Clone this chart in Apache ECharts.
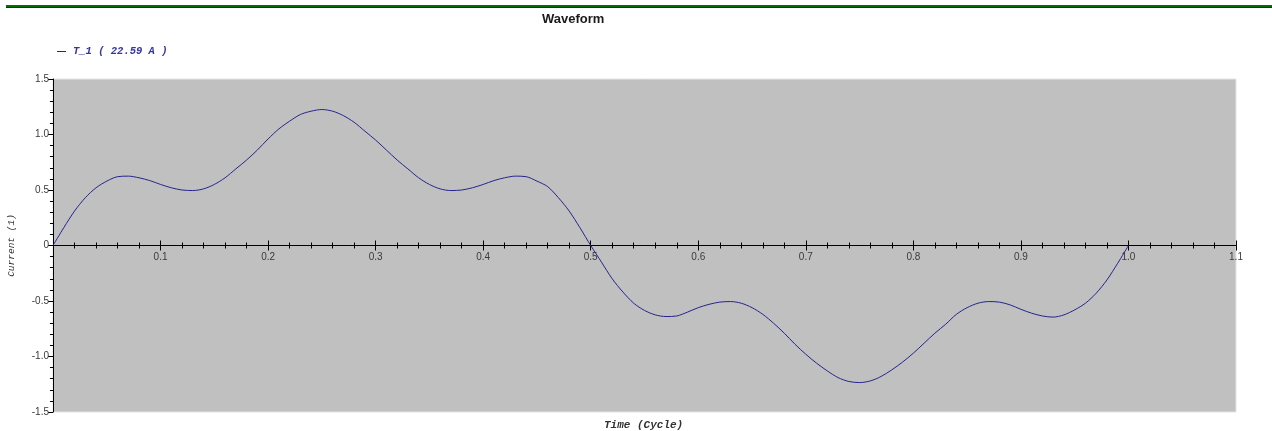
<!DOCTYPE html>
<html>
<head>
<meta charset="utf-8">
<title>Waveform</title>
<script src="https://cdn.jsdelivr.net/npm/echarts@6/dist/echarts.min.js"></script>
<style>
  html, body { margin: 0; padding: 0; background: #ffffff; }
  #chart { width: 1272px; height: 431px; }
</style>
</head>
<body>
<div id="chart"></div>
<script>
// Sample times (fraction of a cycle), one every 0.01 cycle
var time = [
  0.00, 0.01, 0.02, 0.03, 0.04, 0.05, 0.06, 0.07, 0.08, 0.09,
  0.10, 0.11, 0.12, 0.13, 0.14, 0.15, 0.16, 0.17, 0.18, 0.19,
  0.20, 0.21, 0.22, 0.23, 0.24, 0.25, 0.26, 0.27, 0.28, 0.29,
  0.30, 0.31, 0.32, 0.33, 0.34, 0.35, 0.36, 0.37, 0.38, 0.39,
  0.40, 0.41, 0.42, 0.43, 0.44, 0.45, 0.46, 0.47, 0.48, 0.49,
  0.50, 0.51, 0.52, 0.53, 0.54, 0.55, 0.56, 0.57, 0.58, 0.59,
  0.60, 0.61, 0.62, 0.63, 0.64, 0.65, 0.66, 0.67, 0.68, 0.69,
  0.70, 0.71, 0.72, 0.73, 0.74, 0.75, 0.76, 0.77, 0.78, 0.79,
  0.80, 0.81, 0.82, 0.83, 0.84, 0.85, 0.86, 0.87, 0.88, 0.89,
  0.90, 0.91, 0.92, 0.93, 0.94, 0.95, 0.96, 0.97, 0.98, 0.99, 1.00
];
// Per-unit current at each sample time
var current = [
  0.00, 0.16, 0.31, 0.43, 0.52, 0.58, 0.62, 0.625, 0.61, 0.585,
  0.55, 0.52, 0.50, 0.495, 0.51, 0.55, 0.61, 0.69, 0.77, 0.86,
  0.96, 1.05, 1.12, 1.18, 1.21, 1.225, 1.21, 1.17, 1.11, 1.03,
  0.95, 0.86, 0.77, 0.69, 0.61, 0.55, 0.51, 0.495, 0.50, 0.52,
  0.55, 0.585, 0.61, 0.625, 0.62, 0.58, 0.53, 0.43, 0.31, 0.16,
  0.00, -0.15, -0.30, -0.42, -0.52, -0.585, -0.625, -0.64, -0.635, -0.60,
  -0.56, -0.53, -0.51, -0.505, -0.52, -0.56, -0.62, -0.70, -0.79, -0.89,
  -0.98, -1.06, -1.13, -1.19, -1.225, -1.235, -1.22, -1.18, -1.12, -1.05,
  -0.97, -0.88, -0.79, -0.71, -0.62, -0.56, -0.52, -0.505, -0.51, -0.535,
  -0.575, -0.61, -0.635, -0.645, -0.625, -0.58, -0.52, -0.43, -0.31, -0.16, 0.00
];
var seriesName = 'T_1 ( 22.59 A )';
var chartTitle = 'Waveform';
var xName = 'Time (Cycle)';
var yName = 'Current (1)';

var points = time.map(function (t, i) { return [t, current[i]]; });

var monoFont = '"Liberation Mono", "DejaVu Sans Mono", monospace';
var labelFont = '"Liberation Sans", Arial, sans-serif';

var chart = echarts.init(document.getElementById('chart'), null, { renderer: 'canvas' });

// The plot box; a second, transparent copy of it carries the upper half of the
// crossing ticks on the zero line.
var plotBox = { left: 53, top: 79, width: 1183, height: 333, containLabel: false, outerBoundsMode: 'none' };

function xAxisBase(gridIndex) {
  return {
    type: 'value',
    gridIndex: gridIndex,
    min: 0,
    max: 1.1,
    interval: 0.1,
    position: 'bottom',
    axisLine: { show: true, onZero: true, lineStyle: { color: '#000000', width: 1 } },
    axisTick: { show: true, inside: false, length: 5, lineStyle: { color: '#000000' } },
    minorTick: { show: true, splitNumber: 5, length: 3, lineStyle: { color: '#000000' } },
    splitLine: { show: false }
  };
}
function yAxisBase(gridIndex) {
  return {
    type: 'value',
    gridIndex: gridIndex,
    min: -1.5,
    max: 1.5,
    interval: 0.5,
    axisLine: { show: true, onZero: false, lineStyle: { color: '#000000', width: 1 } },
    splitLine: { show: false }
  };
}

// Labelled time axis: raised from the bottom edge up to the zero line
var xMain = xAxisBase(0);
xMain.axisLine.onZero = false;
xMain.offset = -plotBox.height / 2;
xMain.axisLabel = {
  show: true,
  margin: 7,
  fontFamily: labelFont,
  fontSize: 10,
  color: '#3a3a3a',
  showMinLabel: false,
  showMaxLabel: true,
  formatter: function (v) { return v === 0 ? '' : v.toFixed(1); }
};

var xUpper = xAxisBase(1);
xUpper.axisTick.inside = true;
xUpper.axisLabel = { show: false };

var yMain = yAxisBase(0);
yMain.name = yName;
yMain.nameLocation = 'middle';
yMain.nameGap = 37;
yMain.nameRotate = 90;
yMain.nameTextStyle = { fontFamily: monoFont, fontSize: 9.5, fontStyle: 'italic', color: '#333333' };
yMain.axisTick = { show: true, inside: false, length: 5, lineStyle: { color: '#000000' } };
yMain.minorTick = { show: true, splitNumber: 5, length: 3, lineStyle: { color: '#000000' } };
yMain.axisLabel = {
  margin: 4,
  fontFamily: labelFont,
  fontSize: 10,
  color: '#3a3a3a',
  formatter: function (v) { return v === 0 ? '0' : v.toFixed(1); }
};

var yUpper = yAxisBase(1);
yUpper.axisLine.show = false;
yUpper.axisTick = { show: false };
yUpper.axisLabel = { show: false };

chart.setOption({
  animation: false,
  backgroundColor: '#ffffff',
  title: {
    text: chartTitle,
    left: 537,
    top: 8,
    textStyle: { fontFamily: labelFont, fontSize: 13, fontWeight: 'bold', color: '#1a1a1a' }
  },
  legend: {
    show: true,
    left: 52,
    top: 41,
    icon: 'rect',
    itemWidth: 9,
    itemHeight: 1,
    itemGap: 4,
    textStyle: { fontFamily: monoFont, fontSize: 10.5, fontStyle: 'italic', fontWeight: 'bold', color: '#3535a0', padding: [0, 0, 0, 2] }
  },
  grid: [
    Object.assign({ show: true, backgroundColor: '#c0c0c0', borderColor: '#e4e4e4', borderWidth: 1 }, plotBox),
    Object.assign({ show: false }, plotBox)
  ],
  xAxis: [xMain, xUpper],
  yAxis: [yMain, yUpper],
  graphic: [
    { type: 'rect', shape: { x: 6, y: 5, width: 1266, height: 2 }, style: { fill: '#007000' }, silent: true },
    { type: 'rect', shape: { x: 6, y: 7, width: 1266, height: 1 }, style: { fill: '#7a0000' }, silent: true },
    {
      type: 'text', left: 604, top: 420,
      style: { text: xName, font: 'italic bold 11px ' + monoFont, fill: '#333333' }
    }
  ],
  series: [{
    name: seriesName,
    type: 'line',
    xAxisIndex: 0,
    yAxisIndex: 0,
    data: points,
    smooth: 0.3,
    showSymbol: false,
    lineStyle: { color: '#24248f', width: 1 },
    itemStyle: { color: '#24248f' }
  }]
});
</script>
</body>
</html>
